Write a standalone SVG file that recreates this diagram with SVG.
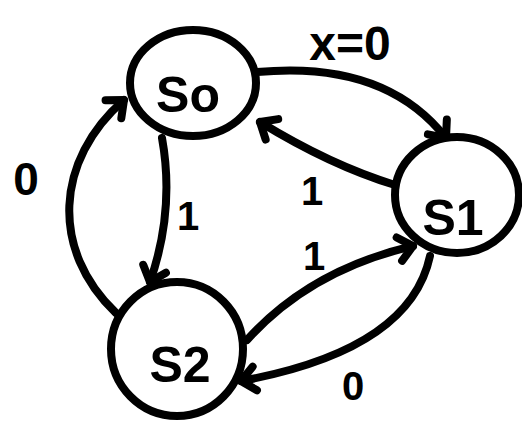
<svg xmlns="http://www.w3.org/2000/svg" width="522" height="423" viewBox="0 0 522 423">
<defs>
<marker id="ah" markerUnits="userSpaceOnUse" markerWidth="40" markerHeight="40" refX="20" refY="20" orient="auto" overflow="visible">
<path d="M6,8 L20,20 L6,32" fill="none" stroke="#000" stroke-width="8" stroke-linecap="round" stroke-linejoin="round"/>
</marker>
<style>
.st{fill:#fff;stroke:#000;stroke-width:8}
.e{fill:none;stroke:#000;stroke-width:8;stroke-linecap:round}
.lb{font-family:"Liberation Sans",Arial,sans-serif;font-weight:bold;fill:#000}
.sl{font-size:50px}
.el{font-size:40px}
</style>
</defs>
<rect width="522" height="423" fill="#fff"/>
<g id="connectors">
<path class="e" d="M257,72 Q385,60 446,138" marker-end="url(#ah)"/>
<path class="e" d="M395,185 Q330,165 260,122" marker-end="url(#ah)"/>
<path class="e" d="M162,138 Q175,210 150,282" marker-end="url(#ah)"/>
<path class="e" d="M116,313 C50,250 55,160 124,100" marker-end="url(#ah)"/>
<path class="e" d="M247,340 Q310,270 413,246" marker-end="url(#ah)"/>
<path class="e" d="M430,256 Q410,350 241,381" marker-end="url(#ah)"/>
</g>
<g id="S0">
<ellipse class="st" cx="193" cy="83" rx="63" ry="53"/>
<text class="lb sl" x="188" y="112" text-anchor="middle">So</text>
</g>
<g id="S1">
<ellipse class="st" cx="457" cy="195" rx="62" ry="58"/>
<text class="lb sl" x="453" y="235" text-anchor="middle">S1</text>
</g>
<g id="S2">
<ellipse class="st" cx="177" cy="349" rx="66" ry="67"/>
<text class="lb sl" x="180" y="382" text-anchor="middle">S2</text>
</g>
<g id="labels">
<text class="lb" style="font-size:48px" x="350" y="60" text-anchor="middle">x=0</text>
<text class="lb" style="font-size:46px" x="26" y="195" text-anchor="middle">0</text>
<text class="lb el" x="188" y="230" text-anchor="middle">1</text>
<text class="lb el" x="312" y="205" text-anchor="middle">1</text>
<text class="lb el" x="314" y="270" text-anchor="middle">1</text>
<text class="lb el" x="353" y="400" text-anchor="middle">0</text>
</g>
</svg>
